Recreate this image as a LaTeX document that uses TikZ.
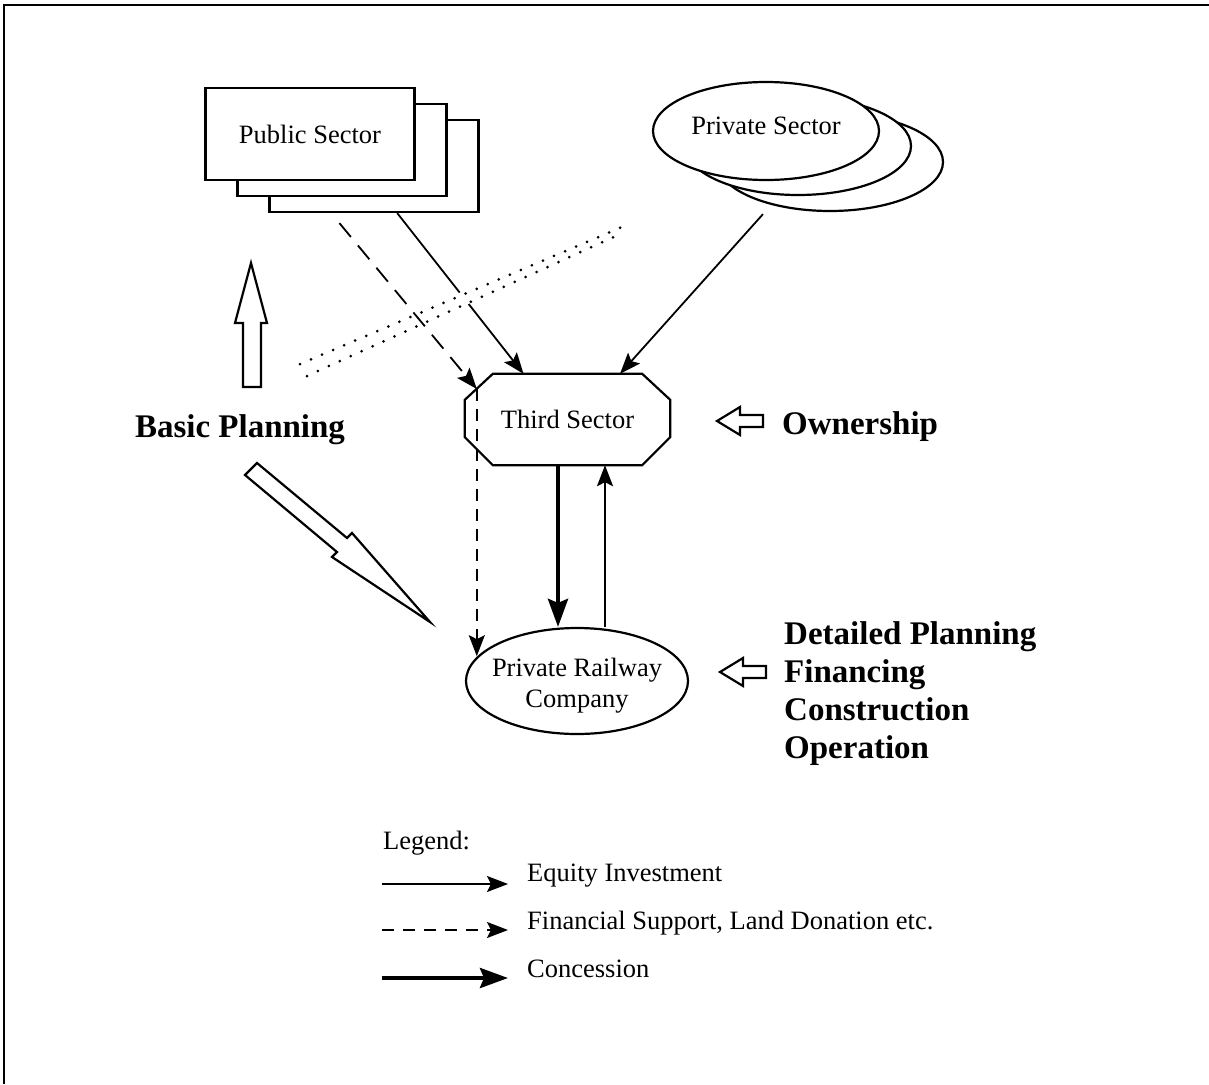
\documentclass[tikz,border=0pt]{standalone}
\usepackage{fontspec}
\setmainfont{Liberation Serif}
\usetikzlibrary{arrows.meta,shapes.geometric,calc}

\newcommand\normtxt{\fontsize{26.5}{32}\selectfont}
\newcommand\boldtxt{\fontsize{33}{38}\selectfont\bfseries}

\tikzset{
  sectorbox/.style={draw, line width=2.2pt, fill=white, minimum width=209pt,
    minimum height=92pt, inner sep=0pt, font=\normtxt},
  sectoroval/.style={draw, ellipse, line width=2.2pt, fill=white, inner sep=0pt,
    font=\normtxt},
  equity/.style={line width=1.8pt, -{Stealth[length=21pt,width=16pt,inset=4pt]}},
  support/.style={equity, dash pattern=on 18pt off 11pt},
  concession/.style={line width=4.2pt, -{Stealth[length=28pt,width=20pt,inset=4pt]}},
  hollow/.style={draw, line width=2.2pt, fill=white, line join=miter},
  dotline/.style={line width=3pt, line cap=round, dash pattern=on 0pt off 12pt},
  bigword/.style={font=\boldtxt, inner sep=0pt},
  legendtxt/.style={font=\normtxt, inner sep=0pt, anchor=base west},
}

\begin{document}
\begin{tikzpicture}[x=1pt, y=-1pt]
\useasboundingbox (0,0) rectangle (1209,1084);

% outer frame (left and top edges)
\draw[line width=2.5pt] (4,1084) -- (4,5) -- (1209,5);

% stacked public sector boxes
\node[sectorbox] (ps3) at (374,166) {};
\node[sectorbox] (ps2) at (342,150) {};
\node[sectorbox] (ps1) at (310,134) {Public Sector};

% stacked private sector ellipses
\node[sectoroval, minimum width=226pt, minimum height=98pt] (pv3) at (830,162) {};
\node[sectoroval, minimum width=226pt, minimum height=98pt] (pv2) at (798,146) {};
\node[sectoroval, minimum width=226pt, minimum height=98pt, text depth=10pt] (pv1) at (766,131) {Private Sector};

% third sector (octagon)
\node[minimum width=205pt, minimum height=91pt, inner sep=0pt, font=\normtxt] (ts) at (567.5,419.5) {Third Sector};
\draw[line width=2.2pt, line join=miter]
  ($(ts.north west)+(28,0)$) -- ($(ts.north east)+(-28,0)$) --
  ($(ts.north east)+(0,26)$) -- ($(ts.south east)+(0,-28)$) --
  ($(ts.south east)+(-28,0)$) -- ($(ts.south west)+(28,0)$) --
  ($(ts.south west)+(0,-28)$) -- ($(ts.north west)+(0,26)$) -- cycle;
\coordinate (tsnw) at ($(ts.west)+(12,-30.5)$);

% private railway company
\node[sectoroval, minimum width=222pt, minimum height=106pt] (prc) at (577,681) {};
\node[font=\normtxt, align=center, inner sep=0pt] (prctext) at (577,686)
  {Private Railway\\[-1pt]Company};

% connectors
\coordinate (psout) at ($(ps3.south west)!0.61!(ps3.south east)$);
\coordinate (tsin1) at ($(ts.north)+(-44,0)$);
\draw[equity] (psout) -- (tsin1);
\draw[white, line width=5pt] ($(psout)!0.495!(tsin1)$) -- ($(psout)!0.565!(tsin1)$);

\coordinate (pvout) at ($(pv3.south)+(-67,2)$);
\draw[equity] (pvout) -- ($(ts.north)+(52.5,0)$);

\draw[support] ($(ps3.south west)+(71,10)$) -- (tsnw);
\draw[support, dash pattern=on 12pt off 8pt] (tsnw) -- (tsnw |- prc.166);

\coordinate (tsdown) at ($(ts.south)+(-9.5,0)$);
\draw[concession] (tsdown) -- (tsdown |- prc.north);
\coordinate (tsup) at ($(ts.south)+(37.5,0)$);
\draw[equity] (tsup |- prc.north) -- (tsup);

% crossing dotted lines
\draw[dotline] (300,364) -- (622,227);
\draw[dotline] (307,376) -- (616,236);

% hollow block arrows
\draw[hollow] (251,263) -- (267,323) -- (261,323) -- (261,387) -- (243,387) --
  (243,323) -- (235,323) -- cycle;
\draw[hollow] (257,463) -- (347,538) -- (352,533) -- (430,622) -- (332,557) --
  (337,552) -- (245,475) -- cycle;
\draw[hollow] (717,421) -- (740,407) -- (740,415) -- (763,415) -- (763,427) --
  (740,427) -- (740,435) -- cycle;
\draw[hollow] (720,672) -- (743,658) -- (743,666) -- (766,666) -- (766,678) --
  (743,678) -- (743,686) -- cycle;

% side labels
\node[bigword] (basic) at (240,430) {Basic Planning};
\node[bigword, anchor=west] (own) at (782,427) {Ownership};
\node[bigword, anchor=west, align=left] (detail) at (784,694)
  {Detailed Planning\\Financing\\Construction\\Operation};

% legend
\node[legendtxt] (leg) at (383,849) {Legend:};
\coordinate (l1a) at (382,884); \coordinate (l1b) at (508,884);
\coordinate (l2a) at (382,930); \coordinate (l2b) at (508,930);
\coordinate (l3a) at (382,978); \coordinate (l3b) at (508,978);
\draw[equity] (l1a) -- (l1b);
\draw[support, dash pattern=on 12pt off 9pt] (l2a) -- (l2b);
\draw[concession] (l3a) -- (l3b);
\node[legendtxt] (t1) at (527,881) {Equity Investment};
\node[legendtxt] (t2) at (527,929) {Financial Support, Land Donation etc.};
\node[legendtxt] (t3) at (527,977) {Concession};
\end{tikzpicture}
\end{document}
